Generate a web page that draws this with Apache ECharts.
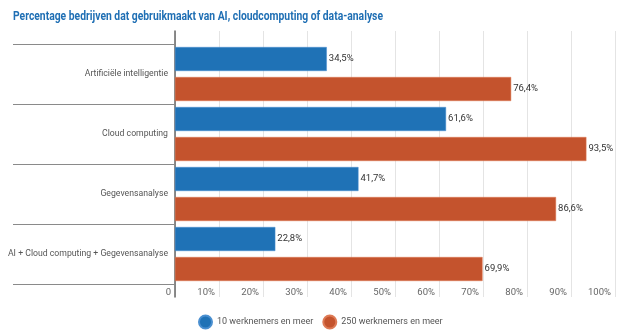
<!DOCTYPE html>
<html><head><meta charset="utf-8">
<script src="https://cdn.jsdelivr.net/npm/echarts@6/dist/echarts.min.js"></script>
<style>html,body{margin:0;padding:0;background:#fff}#c{width:627px;height:336px}</style>
</head><body><div id="c"></div>
<script>
const titleText = 'Percentage bedrijven dat gebruikmaakt van AI, cloudcomputing of data-analyse';
const categories = ['Artificiële intelligentie', 'Cloud computing', 'Gegevensanalyse', 'AI + Cloud computing + Gegevensanalyse'];
const seriesNames = ['10 werknemers en meer', '250 werknemers en meer'];
const small = [34.5, 61.6, 41.7, 22.8];
const large = [76.4, 93.5, 86.6, 69.9];
const colors = ['#1f72b6', '#c4532d'];

const fmtPct = v => String(v).replace('.', ',') + '%';
// fit title to the reference's width with a horizontal scale
const titleFont = 'bold 13px Roboto';
const ctx = document.createElement('canvas').getContext('2d');
ctx.font = titleFont;
const titleScale = 370 / ctx.measureText(titleText).width;

const chart = echarts.init(document.getElementById('c'));
const labelStyle = {show: true, position: 'right', distance: 2, fontSize: 9.5, color: '#333', fontFamily: 'Roboto',
  formatter: p => fmtPct(p.value)};
chart.setOption({
  animation: false,
  textStyle: {fontFamily: 'Roboto'},
  graphic: [{type: 'text', left: 13, top: 10, scaleX: titleScale, originX: 0,
    style: {text: titleText, font: titleFont, fill: '#1f6fb4'}}],
  legend: {bottom: 1.5, left: 193, icon: 'circle', itemWidth: 13, itemHeight: 13, itemGap: 9,
    textStyle: {fontSize: 9, color: '#555'}, data: seriesNames},
  grid: [
    {left: 175, right: 12, top: 44, height: 240, outerBoundsMode: 'none', containLabel: false},
    {left: 175, right: 12, top: 31, height: 266, outerBoundsMode: 'none', containLabel: false}
  ],
  xAxis: [
    {gridIndex: 0, type: 'value', min: 0, max: 100, interval: 10,
      axisLine: {show: false}, axisTick: {show: false}, splitLine: {show: false},
      axisLabel: {margin: 4, fontSize: 9.5, color: '#666', align: 'right', padding: [0, 4, 0, 0],
        formatter: v => v === 0 ? '0' : v + '%'}},
    {gridIndex: 1, type: 'value', min: 0, max: 100, interval: 10,
      axisLine: {show: false}, axisTick: {show: false}, axisLabel: {show: false},
      splitLine: {show: true, lineStyle: {color: '#e4e4e4', width: 1}}}
  ],
  yAxis: [
    {gridIndex: 0, type: 'category', data: categories, inverse: true,
      axisLine: {show: false},
      axisTick: {show: true, length: 162, lineStyle: {color: '#8a8a8a', width: 1}},
      axisLabel: {margin: 7, fontSize: 8.7, color: '#555'}},
    {gridIndex: 1, type: 'value', min: 0, max: 1,
      axisLine: {show: true, lineStyle: {color: '#666', width: 1.5}},
      axisTick: {show: false}, axisLabel: {show: false}, splitLine: {show: false}}
  ],
  series: [
    {name: seriesNames[0], type: 'bar', xAxisIndex: 0, yAxisIndex: 0, data: small,
      barWidth: 24, barGap: '25%', itemStyle: {color: colors[0], borderColor: '#4a8fd0', borderWidth: 0.5}, label: labelStyle},
    {name: seriesNames[1], type: 'bar', xAxisIndex: 0, yAxisIndex: 0, data: large,
      barWidth: 24, itemStyle: {color: colors[1], borderColor: '#de7a55', borderWidth: 0.5}, label: labelStyle}
  ]
});
</script></body></html>
